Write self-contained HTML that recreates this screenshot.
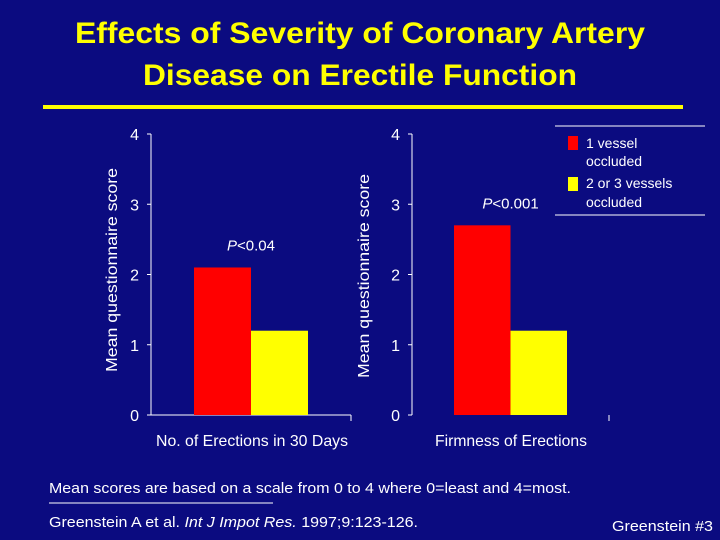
<!DOCTYPE html>
<html><head><meta charset="utf-8"><style>
html,body{margin:0;padding:0;background:#0b0b80;}
svg{display:block;font-family:"Liberation Sans",Arial,sans-serif;}
</style></head><body>
<svg id="c" width="720" height="540" xmlns="http://www.w3.org/2000/svg">
<rect width="720" height="540" fill="#0b0b80"/>
<g fill="#ffff00" font-weight="bold" font-size="30" text-anchor="middle" font-family="'Liberation Sans Narrow','Liberation Sans',sans-serif">
<text x="360" y="43" textLength="570" lengthAdjust="spacingAndGlyphs">Effects of Severity of Coronary Artery</text>
<text x="360" y="85" textLength="434" lengthAdjust="spacingAndGlyphs">Disease on Erectile Function</text>
</g>
<rect x="43" y="105" width="640" height="4" fill="#ffff00"/>
<g id="charts" fill="#fff"></g>
<g>
<line x1="555" y1="126" x2="705" y2="126" stroke="#fff" stroke-width="1"/>
<line x1="555" y1="215" x2="705" y2="215" stroke="#fff" stroke-width="1"/>
<rect x="568" y="136" width="10" height="14" fill="#ff0000"/>
<rect x="568" y="177" width="10" height="14" fill="#ffff00"/>
<g fill="#fff" font-size="14">
<text x="586" y="148">1 vessel</text>
<text x="586" y="166">occluded</text>
<text x="586" y="188">2 or 3 vessels</text>
<text x="586" y="207">occluded</text>
</g></g>
<g fill="#fff" font-size="15">
<text x="49" y="493" textLength="522" lengthAdjust="spacingAndGlyphs">Mean scores are based on a scale from 0 to 4 where 0=least and 4=most.</text>
<line x1="49" y1="503" x2="273" y2="503" stroke="#fff" stroke-width="1"/>
<text x="49" y="527" textLength="369" lengthAdjust="spacingAndGlyphs">Greenstein A et al. <tspan font-style="italic">Int J Impot Res.</tspan> 1997;9:123-126.</text>
<text x="612" y="531" textLength="101" lengthAdjust="spacingAndGlyphs">Greenstein #3</text>
</g>
</svg>
<script>
const categories = ["No. of Erections in 30 Days", "Firmness of Erections"];
const oneVessel = [2.1, 2.7];
const twoThreeVessels = [1.2, 1.2];
const pValues = ["<0.04", "<0.001"];
const yTicks = [0, 1, 2, 3, 4];

const NS = "http://www.w3.org/2000/svg";
const g = document.getElementById("charts");
function mk(tag, attrs, parent) {
  const e = document.createElementNS(NS, tag);
  for (const k in attrs) e.setAttribute(k, attrs[k]);
  (parent || g).appendChild(e);
  return e;
}
const y0 = 415, y4 = 134;
function yScale(v) { return y0 - (y0 - y4) * v / 4; }
const panels = [
  { ax: 151, xEnd: 351, red: 194, bw: 57, lab: 252, labW: 192, ylab: 117, ylabY: 270 },
  { ax: 412, xEnd: 609, red: 454, bw: 56.5, lab: 511, labW: 152, ylab: 369, ylabY: 276 }
];
panels.forEach((p, i) => {
  const grp = mk("g", {});
  
  
  const ya = mk("line", { x1: p.ax, y1: y4, x2: p.ax, y2: y0, stroke: "#fff", "stroke-width": 1 }, grp);
  
  
  const xa = mk("line", { x1: p.ax, y1: y0, x2: p.xEnd, y2: y0, stroke: i === 0 ? "#fff" : "none", "stroke-width": 1 }, grp);
  
  
  mk("line", { x1: p.xEnd, y1: y0, x2: p.xEnd, y2: y0 + 6, stroke: "#fff" }, grp);
  yTicks.forEach(t => {
    const y = yScale(t);
    mk("line", { x1: p.ax - 4, y1: y, x2: p.ax, y2: y, stroke: "#fff" }, grp);
    const tl = mk("text", { x: p.ax - 12, y: y + 6, "font-size": 16, "text-anchor": "end", fill: "#fff" }, grp);
    tl.textContent = t;
    
    
  });
  const r = mk("rect", { x: p.red, y: yScale(oneVessel[i]), width: p.bw, height: y0 - yScale(oneVessel[i]), fill: "#ff0000" }, grp);
  
  
  const yb = mk("rect", { x: p.red + p.bw, y: yScale(twoThreeVessels[i]), width: p.bw, height: y0 - yScale(twoThreeVessels[i]), fill: "#ffff00" }, grp);
  
  
  const pt = mk("text", { x: p.red + p.bw, y: yScale(Math.max(oneVessel[i], twoThreeVessels[i])) - 17, "font-size": 15, "text-anchor": "middle", fill: "#fff" }, grp);
  pt.innerHTML = '<tspan font-style="italic">P</tspan>' + pValues[i].replace("<", "&lt;");
  
  
  const xl = mk("text", { x: p.lab, y: 446, "font-size": 16, "text-anchor": "middle", fill: "#fff", textLength: p.labW, lengthAdjust: "spacingAndGlyphs" }, grp);
  xl.textContent = categories[i];
  
  
  const yl = mk("text", { x: 0, y: 0, "font-size": 16, "text-anchor": "middle", fill: "#fff", textLength: 204, lengthAdjust: "spacingAndGlyphs", transform: "translate(" + p.ylab + "," + p.ylabY + ") rotate(-90)" }, grp);
  yl.textContent = "Mean questionnaire score";
  
  
});
</script>
</body></html>
